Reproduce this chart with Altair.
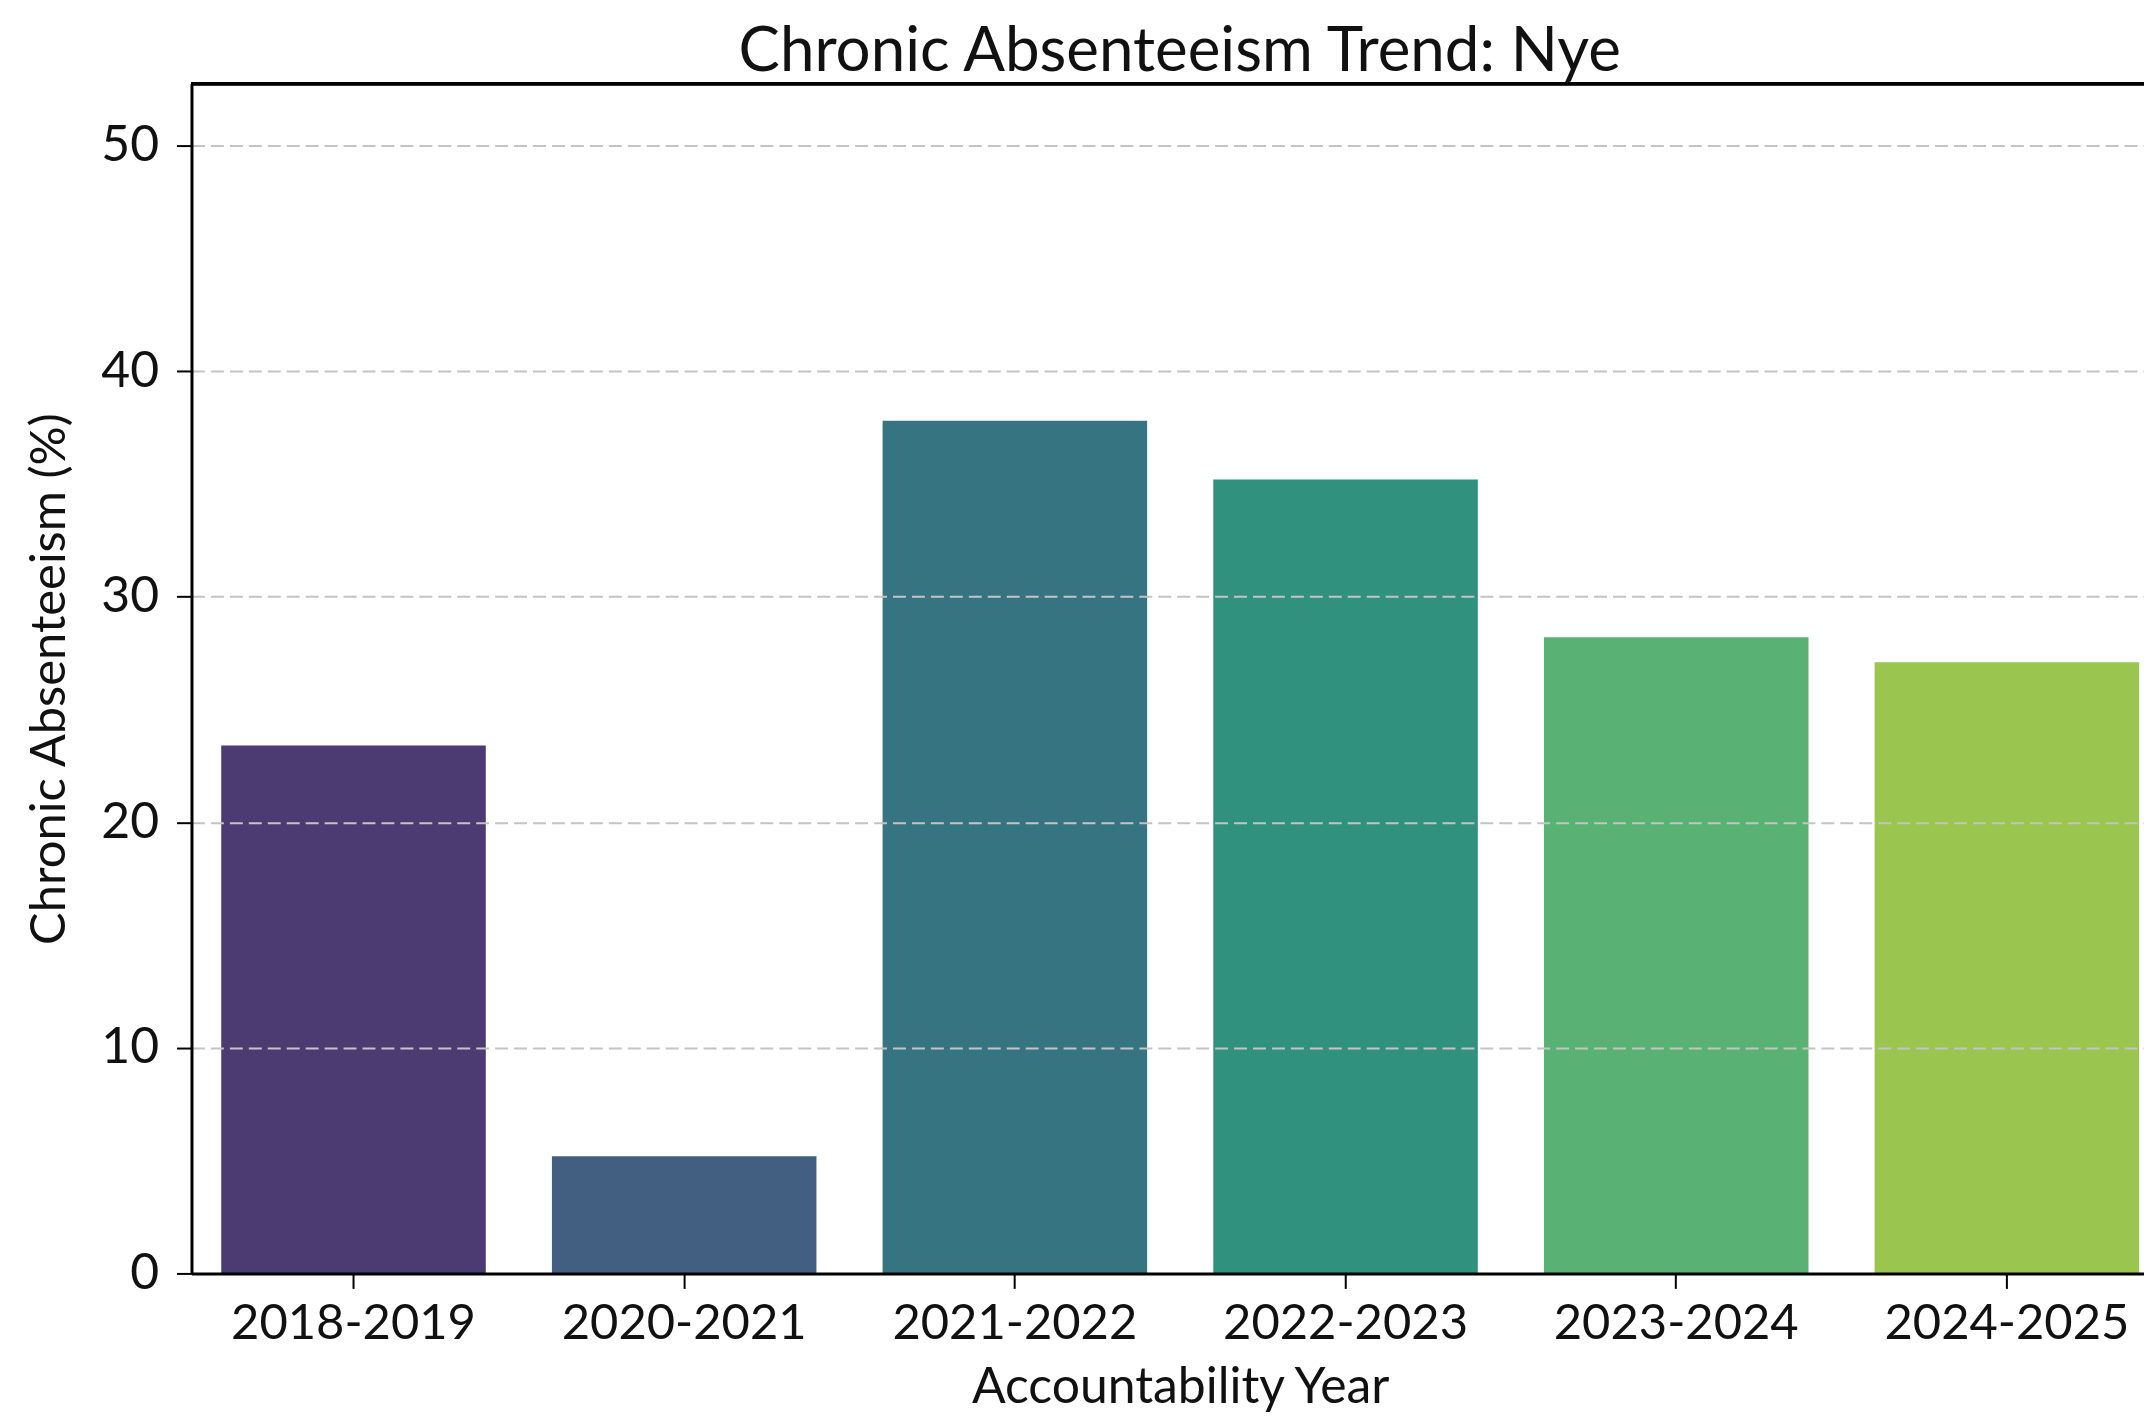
import altair as alt
import pandas as pd

years = ["2018-2019", "2020-2021", "2021-2022", "2022-2023", "2023-2024", "2024-2025"]
values = [23.4, 5.2, 37.8, 35.2, 28.2, 27.1]
colors = ["#4b3b72", "#425f82", "#357480", "#31917f", "#5ab174", "#9ac54f"]
y_ticks = [0, 10, 20, 30, 40, 50]

df = pd.DataFrame({"year": years, "value": values})

W = 1958
H = 1193
FONT = "Lato"

bars = alt.Chart(df).mark_bar().encode(
    x=alt.X(
        "year:N",
        sort=years,
        scale=alt.Scale(range=[0, 1983], paddingInner=0.2, paddingOuter=0.09),
        axis=alt.Axis(
            title="Accountability Year",
            labelAngle=0,
            labelFont=FONT,
            labelFontSize=49,
            labelColor="#111111",
            labelPadding=11,
            labelLimit=0,
            tickSize=15,
            tickWidth=2,
            tickColor="#000000",
            domainColor="#000000",
            domainWidth=3,
            titleFont=FONT,
            titleFontSize=50,
            titleFontWeight="normal",
            titleColor="#111111",
            titlePadding=14,
            grid=False,
            zindex=2,
        ),
    ),
    y=alt.Y(
        "value:Q",
        scale=alt.Scale(domain=[0, 52.74], nice=False),
        axis=alt.Axis(
            title="Chronic Absenteeism (%)",
            values=y_ticks,
            labelFont=FONT,
            labelFontSize=50,
            labelColor="#111111",
            labelPadding=18,
            tickSize=15,
            tickWidth=2,
            tickColor="#000000",
            domainColor="#000000",
            domainWidth=3,
            grid=True,
            gridColor="#c4c4c4",
            gridWidth=2,
            gridDash=[13, 6],
            titleFont=FONT,
            titleFontSize=49,
            titleFontWeight="normal",
            titleColor="#111111",
            titleX=-142,
            titleBaseline="middle",
            zindex=1,
        ),
    ),
    color=alt.Color("year:N", scale=alt.Scale(domain=years, range=colors), legend=None),
)

top_spine = alt.Chart(df).mark_rule(color="#000000", strokeWidth=3).encode(
    x=alt.value(0), x2=alt.value(W), y=alt.value(0)
)

chart = alt.layer(bars, top_spine).properties(
    width=W,
    height=H,
    autosize="none",
    padding={"left": 184, "top": 74, "right": 0, "bottom": 140},
    title=alt.TitleParams(
        text="Chronic Absenteeism Trend: Nye",
        font=FONT,
        fontSize=62,
        fontWeight="normal",
        color="#111111",
        anchor="middle",
        dx=12,
        offset=-2,
    ),
).configure_view(stroke=None)

chart.save("out.html", embed_options={"renderer": "svg", "actions": False})
